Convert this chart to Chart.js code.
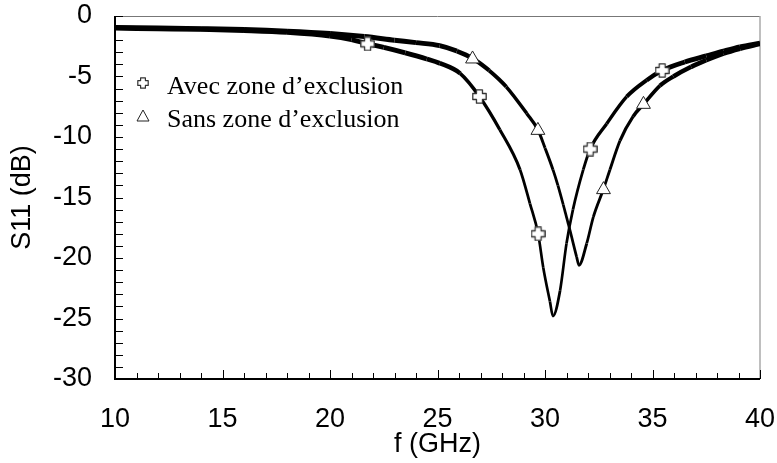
<!DOCTYPE html>
<html>
<head>
<meta charset="utf-8">
<script src="https://cdn.jsdelivr.net/npm/chart.js@4.4.1/dist/chart.umd.min.js"></script>
<style>
  html, body { margin: 0; padding: 0; background: #fff; }
  #wrap { width: 777px; height: 463px; }
</style>
</head>
<body>
<div id="wrap"><canvas id="c" width="777" height="463"></canvas></div>
<script>
// ---- Data ----
const freqAvec = [10, 12, 14, 16, 18, 20, 21, 21.75, 22.5, 23.5, 24.5, 25.1, 26.05, 26.95, 27.9, 28.84, 29.3, 29.68, 29.92, 30.23, 30.37, 30.7, 31.0, 31.3, 31.78, 32.1, 32.87, 33.8, 34.73, 35.45, 36.5, 37.5, 38.3, 39.07, 40];
const s11Avec  = [-1.0, -1.05, -1.1, -1.2, -1.35, -1.65, -1.95, -2.3, -2.6, -3.05, -3.55, -3.9, -4.74, -6.65, -9.4, -12.7, -15.5, -18.0, -20.8, -23.6, -24.8, -22.7, -18.8, -16.0, -12.7, -11.0, -8.9, -6.67, -5.3, -4.5, -3.8, -3.3, -2.9, -2.55, -2.25];

const freqSans = [10, 12, 14, 16, 18, 20, 21.6, 23, 24, 25.1, 25.9, 26.63, 27.4, 28.2, 29.15, 29.67, 30.0, 30.37, 30.6, 30.85, 31.16, 31.47, 31.58, 31.94, 32.25, 32.72, 33.02, 33.49, 34.1, 34.58, 35.35, 35.97, 36.8, 37.5, 38.3, 39.07, 40];
const s11Sans  = [-0.95, -1.0, -1.05, -1.12, -1.25, -1.45, -1.7, -2.0, -2.2, -2.45, -2.9, -3.5, -4.5, -5.85, -8.05, -9.4, -10.9, -12.7, -14.0, -15.6, -17.7, -19.9, -20.6, -18.8, -16.6, -14.3, -12.7, -10.3, -8.3, -7.3, -5.75, -5.0, -4.2, -3.65, -3.1, -2.7, -2.3];

// sparse symbol markers
const markFreqAvec = [21.75, 26.95, 29.68, 32.1, 35.45];
const markS11Avec  = [-2.3, -6.65, -18.0, -11.0, -4.5];
const markFreqSans = [26.63, 29.67, 32.72, 34.58];
const markS11Sans  = [-3.55, -9.45, -14.35, -7.3];

const seriesNames = ["Avec zone d\u2019exclusion", "Sans zone d\u2019exclusion"];
const xTicks = [10, 15, 20, 25, 30, 35, 40];
const yTicks = [-30, -25, -20, -15, -10, -5, 0];

// ---- helpers ----
function makePlus(size, lw) {
  const c = document.createElement('canvas');
  c.width = size; c.height = size;
  const g = c.getContext('2d');
  const m = 0.8, e = size - 0.8;
  const a = size * 0.3, b = size - size * 0.3;
  g.beginPath();
  g.moveTo(a, m); g.lineTo(b, m); g.lineTo(b, a); g.lineTo(e, a); g.lineTo(e, b);
  g.lineTo(b, b); g.lineTo(b, e); g.lineTo(a, e); g.lineTo(a, b); g.lineTo(m, b);
  g.lineTo(m, a); g.lineTo(a, a); g.closePath();
  g.fillStyle = '#fff'; g.fill();
  g.lineWidth = lw; g.strokeStyle = '#333'; g.lineJoin = 'round'; g.stroke();
  return c;
}
const plusBig = makePlus(15, 1.3);
const plusSmall = makePlus(12, 1.2);

const toXY = (xs, ys) => xs.map((x, i) => ({ x: x, y: ys[i] }));

// thicker where the curve is flat (dense markers overlap), thinner where steep
const segWidth = ctx => {
  const dx = ctx.p1.x - ctx.p0.x, dy = ctx.p1.y - ctx.p0.y;
  const len = Math.sqrt(dx * dx + dy * dy) || 1;
  return 2.6 + 2.4 * Math.pow(Math.abs(dx) / len, 2);
};

const FONT = "'Liberation Sans', Arial, sans-serif";

const framePlugin = {
  id: 'frame',
  beforeDatasetsDraw(chart) {
    const { ctx, chartArea: a, scales } = chart;
    const xs = scales.x, ys = scales.y;
    ctx.save();
    ctx.strokeStyle = '#777'; ctx.lineWidth = 1;
    ctx.beginPath(); ctx.moveTo(a.left, a.top + 0.5); ctx.lineTo(a.right, a.top + 0.5); ctx.stroke();
    ctx.strokeStyle = '#aaa'; ctx.lineWidth = 1.5;
    ctx.beginPath(); ctx.moveTo(a.right, a.top); ctx.lineTo(a.right, a.bottom); ctx.stroke();
    ctx.strokeStyle = '#000'; ctx.lineWidth = 1;
    for (let v = -30; v <= 0; v += 1) {
      const py = Math.round(ys.getPixelForValue(v)) + 0.5;
      ctx.beginPath(); ctx.moveTo(a.left, py); ctx.lineTo(a.left + 8, py); ctx.stroke();
    }
    for (let v = 10; v <= 40; v += 1) {
      const px = Math.round(xs.getPixelForValue(v)) + 0.5;
      const len = (v % 5 === 0) ? 9 : 6;
      ctx.beginPath(); ctx.moveTo(px, a.bottom); ctx.lineTo(px, a.bottom - len); ctx.stroke();
    }
    ctx.lineWidth = 2; ctx.strokeStyle = '#000';
    ctx.beginPath();
    ctx.moveTo(a.left, a.top); ctx.lineTo(a.left, a.bottom); ctx.lineTo(a.right, a.bottom);
    ctx.stroke();
    ctx.restore();
  },
  afterDraw(chart) {
    const { ctx } = chart;
    ctx.save();
    ctx.font = "26px 'Liberation Serif', 'Times New Roman', serif";
    ctx.fillStyle = '#000';
    ctx.textBaseline = 'alphabetic';
    ctx.fillText(seriesNames[0], 167, 94);
    ctx.fillText(seriesNames[1], 167, 127);
    ctx.drawImage(plusSmall, 143 - 6, 83 - 6);
    ctx.beginPath();
    ctx.moveTo(143, 110); ctx.lineTo(149, 121); ctx.lineTo(137, 121); ctx.closePath();
    ctx.fillStyle = '#fff'; ctx.fill();
    ctx.strokeStyle = '#222'; ctx.lineWidth = 1; ctx.stroke();
    ctx.restore();
  }
};

new Chart(document.getElementById('c'), {
  type: 'line',
  data: {
    datasets: [
      { label: seriesNames[0] + ' markers', data: toXY(markFreqAvec, markS11Avec), showLine: false,
        pointStyle: plusBig, pointRadius: 7, backgroundColor: '#fff', borderColor: '#333', order: 0 },
      { label: seriesNames[1] + ' markers', data: toXY(markFreqSans, markS11Sans), showLine: false,
        pointStyle: 'triangle', pointRadius: 8, borderWidth: 1, backgroundColor: '#fff', borderColor: '#222', order: 0 },
      { label: seriesNames[0], data: toXY(freqAvec, s11Avec), borderColor: '#000', borderWidth: 3.5,
        segment: { borderWidth: segWidth },
        pointRadius: 0, cubicInterpolationMode: 'monotone', fill: false, order: 1 },
      { label: seriesNames[1], data: toXY(freqSans, s11Sans), borderColor: '#000', borderWidth: 3.5,
        segment: { borderWidth: segWidth },
        pointRadius: 0, cubicInterpolationMode: 'monotone', fill: false, order: 1 }
    ]
  },
  options: {
    responsive: false,
    animation: false,
    events: [],
    layout: { padding: { top: 16, right: 17, bottom: 0, left: 0 } },
    plugins: { legend: { display: false }, tooltip: { enabled: false } },
    scales: {
      x: {
        type: 'linear', min: 10, max: 40,
        grid: { display: false, drawTicks: false },
        border: { display: false },
        afterFit: s => { s.height = 84; s.paddingLeft = 0; s.paddingRight = 0; },
        afterBuildTicks: s => { s.ticks = xTicks.map(v => ({ value: v })); },
        ticks: { font: { family: FONT, size: 27 }, color: '#000', padding: 24, maxRotation: 0 },
        title: { display: true, text: 'f (GHz)', font: { family: FONT, size: 27 }, color: '#000', padding: { top: 0, bottom: 2 } }
      },
      y: {
        type: 'linear', min: -30, max: 0,
        grid: { display: false, drawTicks: false },
        border: { display: false },
        afterFit: s => { s.width = 115; s.paddingTop = 0; s.paddingBottom = 0; },
        afterBuildTicks: s => { s.ticks = yTicks.map(v => ({ value: v })); },
        ticks: { font: { family: FONT, size: 27 }, color: '#000', padding: 23 },
        title: { display: true, text: 'S11 (dB)', font: { family: FONT, size: 27 }, color: '#000', padding: { top: 6, bottom: 0 } }
      }
    }
  },
  plugins: [framePlugin]
});
</script>
</body>
</html>
